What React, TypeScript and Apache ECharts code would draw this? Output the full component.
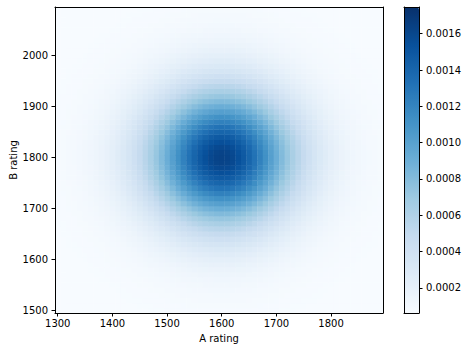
import React, { useEffect, useRef } from "react";
import * as echarts from "echarts";

// Bin layout (centres of 10-point rating bins)
const A_START = 1300;
const B_START = 1500;
const BIN = 10;

// Marginal relative weights (index 0 = lowest rating bin)
const A_WEIGHTS = [
  0.008, 0.011, 0.015, 0.019, 0.025, 0.032, 0.041, 0.052, 0.066, 0.083,
  0.103, 0.127, 0.155, 0.188, 0.225, 0.268, 0.315, 0.365, 0.42, 0.478,
  0.54, 0.607, 0.674, 0.739, 0.801, 0.857, 0.906, 0.946, 0.976, 0.994,
  1.0, 0.994, 0.976, 0.946, 0.906, 0.857, 0.801, 0.739, 0.674, 0.607,
  0.54, 0.478, 0.42, 0.365, 0.315, 0.268, 0.225, 0.188, 0.155, 0.127,
  0.103, 0.083, 0.066, 0.052, 0.041, 0.032, 0.025, 0.019, 0.015, 0.011,
];
const B_WEIGHTS = [
  0.008, 0.011, 0.015, 0.019, 0.025, 0.032, 0.041, 0.052, 0.066, 0.083,
  0.103, 0.127, 0.155, 0.188, 0.225, 0.268, 0.315, 0.365, 0.42, 0.478,
  0.54, 0.607, 0.674, 0.739, 0.801, 0.857, 0.906, 0.946, 0.976, 0.994,
  1.0, 0.994, 0.976, 0.946, 0.906, 0.857, 0.801, 0.739, 0.674, 0.607,
  0.54, 0.478, 0.42, 0.365, 0.315, 0.268, 0.225, 0.188, 0.155, 0.127,
  0.103, 0.083, 0.066, 0.052, 0.041, 0.032, 0.025, 0.019, 0.015, 0.011,
];
const FLOOR = 0.000062;
const PEAK_EXCESS = 0.00157;

const X_TICKS = [1300, 1400, 1500, 1600, 1700, 1800];
const Y_TICKS = [1500, 1600, 1700, 1800, 1900, 2000];
const CBAR_TICKS = [0.0002, 0.0004, 0.0006, 0.0008, 0.001, 0.0012, 0.0014, 0.0016];
const CBAR_MIN = 0.000062;
const CBAR_MAX = 0.001747;

const BLUES = [
  "#f7fbff", "#deebf7", "#c6dbef", "#9ecae1", "#6baed6",
  "#4292c6", "#2171b5", "#08519c", "#08306b",
];

const FONT = "DejaVu Sans";

export default function App() {
  const ref = useRef<HTMLDivElement>(null);
  useEffect(() => {
    if (!ref.current) return;
    const chart = echarts.init(ref.current, undefined, { renderer: "svg" });

    const data: number[][] = [];
    A_WEIGHTS.forEach((wa, i) => {
      B_WEIGHTS.forEach((wb, j) => {
        data.push([A_START + i * BIN, B_START + j * BIN, FLOOR + PEAK_EXCESS * wa * wb]);
      });
    });

    const label = { color: "#000", fontFamily: FONT, fontSize: 10 };
    const tick = { show: true, length: 3.5, lineStyle: { color: "#000", width: 1 } };
    const line = { show: true, onZero: false, lineStyle: { color: "#000", width: 1 } };
    const xMin = A_START - BIN / 2;
    const xMax = A_START + BIN * (A_WEIGHTS.length - 0.5);
    const yMin = B_START - BIN / 2;
    const yMax = B_START + BIN * (B_WEIGHTS.length - 0.5);
    const plain = (v: number) => String(v);

    chart.setOption({
      animation: false,
      backgroundColor: "#fff",
      grid: [
        { left: 55, top: 7, width: 328, height: 306, show: false, containLabel: false, outerBoundsMode: "none" },
        { left: 404, top: 7, width: 15, height: 306, show: false, containLabel: false, outerBoundsMode: "none" },
      ],
      xAxis: [
        {
          type: "value", gridIndex: 0, position: "bottom", min: xMin, max: xMax,
          axisLine: line, axisTick: { ...tick, customValues: X_TICKS },
          axisLabel: { ...label, margin: 5, customValues: X_TICKS, formatter: plain },
          splitLine: { show: false },
          name: "A rating", nameLocation: "middle", nameGap: 20,
          nameTextStyle: { ...label }, z: 10,
        },
        {
          type: "value", gridIndex: 0, position: "top", min: xMin, max: xMax,
          axisLine: line, axisTick: { show: false }, axisLabel: { show: false },
          splitLine: { show: false }, z: 10,
        },
        {
          type: "value", gridIndex: 1, position: "bottom", min: 0, max: 1,
          axisLine: line, axisTick: { show: false }, axisLabel: { show: false },
          splitLine: { show: false }, z: 10,
        },
        {
          type: "value", gridIndex: 1, position: "top", min: 0, max: 1,
          axisLine: line, axisTick: { show: false }, axisLabel: { show: false },
          splitLine: { show: false }, z: 10,
        },
      ],
      yAxis: [
        {
          type: "value", gridIndex: 0, position: "left", min: yMin, max: yMax,
          axisLine: line, axisTick: { ...tick, customValues: Y_TICKS },
          axisLabel: { ...label, margin: 7, customValues: Y_TICKS, formatter: plain },
          splitLine: { show: false },
          name: "B rating", nameLocation: "middle", nameGap: 37, nameMoveOverlap: false,
          nameTextStyle: { ...label }, z: 10,
        },
        {
          type: "value", gridIndex: 0, position: "right", min: yMin, max: yMax,
          axisLine: line, axisTick: { show: false }, axisLabel: { show: false },
          splitLine: { show: false }, z: 10,
        },
        {
          type: "value", gridIndex: 1, position: "left", min: CBAR_MIN, max: CBAR_MAX,
          axisLine: line, axisTick: { show: false }, axisLabel: { show: false },
          splitLine: { show: false }, z: 10,
        },
        {
          type: "value", gridIndex: 1, position: "right", min: CBAR_MIN, max: CBAR_MAX,
          axisLine: line, axisTick: { ...tick, customValues: CBAR_TICKS },
          axisLabel: {
            ...label, margin: 7, customValues: CBAR_TICKS,
            formatter: (v: number) => v.toFixed(4),
          },
          splitLine: { show: false }, z: 10,
        },
      ],
      visualMap: {
        type: "continuous",
        min: CBAR_MIN,
        max: CBAR_MAX,
        dimension: 2,
        seriesIndex: 0,
        left: 404,
        top: 7,
        itemWidth: 15,
        itemHeight: 306,
        padding: 0,
        showLabel: false,
        calculable: false,
        realtime: false,
        hoverLink: false,
        inRange: { color: BLUES },
      },
      series: [
        {
          type: "custom",
          xAxisIndex: 0,
          yAxisIndex: 0,
          data,
          clip: true,
          renderItem: (params: any, api: any) => {
            const x = api.value(0);
            const y = api.value(1);
            const p0 = api.coord([x - BIN / 2, y + BIN / 2]);
            const p1 = api.coord([x + BIN / 2, y - BIN / 2]);
            return {
              type: "rect",
              shape: { x: p0[0], y: p0[1], width: p1[0] - p0[0] + 0.4, height: p1[1] - p0[1] + 0.4 },
              style: { fill: api.visual("color"), stroke: null },
            };
          },
        },
      ],
    });
    return () => chart.dispose();
  }, []);
  return (
    <div
      ref={ref}
      style={{ position: "fixed", left: 0, top: 0, width: 470, height: 352, background: "#fff" }}
    />
  );
}
